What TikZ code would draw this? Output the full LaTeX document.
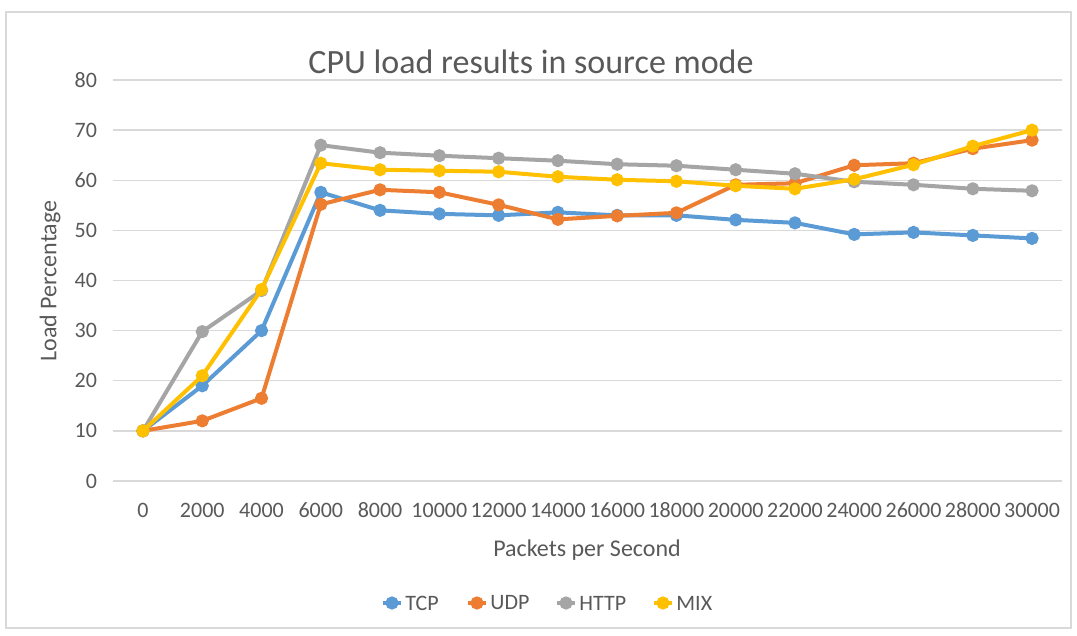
\documentclass[tikz,border=0pt]{standalone}
\usepackage{fontspec}
\setmainfont{Carlito}
\usepackage{xcolor}
\usepackage{tikz}
\definecolor{ink}{HTML}{595959}
\definecolor{rule}{HTML}{D9D9D9}
\definecolor{tcp}{HTML}{5B9BD5}
\definecolor{udp}{HTML}{ED7D31}
\definecolor{http}{HTML}{A5A5A5}
\definecolor{mix}{HTML}{FFC000}
\tikzset{
  gridline/.style  = {draw=rule, line width=0.7pt},
  series/.style    = {line width=2pt, line join=round, mark=*, mark size=2.8pt,
                      mark options={line width=1pt}},
  ticklabel/.style = {font=\fontsize{11}{13}\selectfont, text=ink, inner sep=0pt},
  axistitle/.style = {font=\fontsize{12}{14}\selectfont, text=ink},
  legendkey/.style = {line width=2pt, mark=*, mark size=2.8pt, mark indices={2},
                      mark options={line width=1pt}},
  legendtext/.style= {font=\fontsize{11}{13}\selectfont, text=ink, anchor=west, inner sep=0pt},
}

\begin{document}
\begin{tikzpicture}[x=0.5pt, y=0.5pt]
  \useasboundingbox (0,0) rectangle (1077,636);
  \fill[white] (0,0) rectangle (1077,636);
  \draw[rule, line width=0.9pt] (6,8) rectangle (1071,624);

  \node[font=\fontsize{17}{20}\selectfont, text=ink] (title) at (531,574) {CPU load results in source mode};

  % plot area: one unit per category, one unit per percent
  \begin{scope}[shift={(143,155)}, x=29.635pt, y=2.506pt]
    \foreach \v in {0,10,...,80} {
      \draw[gridline] (-0.5,\v) -- (15.5,\v);
      \node[ticklabel, anchor=east] at ([xshift=-8pt]-0.5,\v) {\v};
    }
    \foreach \lab [count=\i from 0] in {0,2000,4000,6000,8000,10000,12000,14000,
                                         16000,18000,20000,22000,24000,26000,28000,30000}
      \node[ticklabel] at (\i,-5.8) {\lab};

    \draw[series, tcp] plot coordinates {(0,10) (1,19) (2,30) (3,57.6) (4,54) (5,53.3) (6,53) (7,53.6)
      (8,53) (9,53) (10,52.1) (11,51.5) (12,49.2) (13,49.6) (14,49) (15,48.4)};
    \draw[series, udp] plot coordinates {(0,10) (1,12) (2,16.5) (3,55.2) (4,58.1) (5,57.6) (6,55.1) (7,52.2)
      (8,52.9) (9,53.5) (10,59.1) (11,59.4) (12,63) (13,63.4) (14,66.3) (15,68)};
    \draw[series, http] plot coordinates {(0,10) (1,29.8) (2,38) (3,67) (4,65.5) (5,64.9) (6,64.4) (7,63.9)
      (8,63.2) (9,62.9) (10,62.1) (11,61.3) (12,59.7) (13,59.1) (14,58.3) (15,57.9)};
    \draw[series, mix] plot coordinates {(0,10) (1,21) (2,38.2) (3,63.4) (4,62.1) (5,61.9) (6,61.7) (7,60.7)
      (8,60.1) (9,59.8) (10,58.9) (11,58.3) (12,60.2) (13,63.1) (14,66.8) (15,70)};
  \end{scope}

  \node[axistitle] (xtitle) at (587,86) {Packets per Second};
  \node[axistitle, rotate=90] (ytitle) at (50,355) {Load Percentage};

  % legend
  \foreach \key/\lab/\xx in {tcp/TCP/392, udp/UDP/477, http/HTTP/566, mix/MIX/663} {
    \draw[legendkey, \key] plot coordinates {(\xx-9,33) (\xx,33) (\xx+9,33)};
    \node[legendtext] at (\xx+13,33) {\lab};
  }
\end{tikzpicture}
\end{document}
